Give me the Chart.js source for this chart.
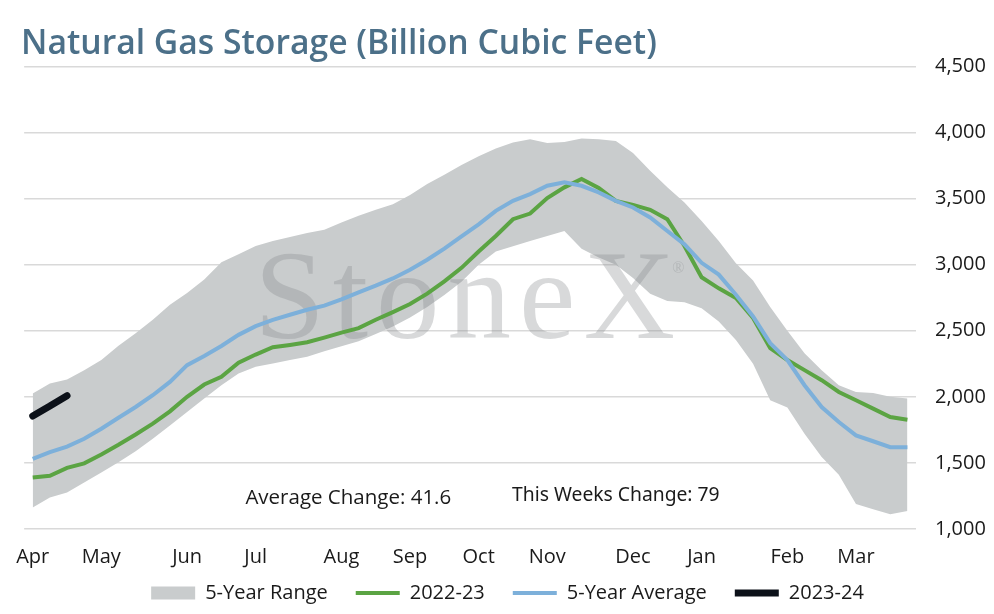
<!DOCTYPE html>
<html>
<head>
<meta charset="utf-8">
<script src="https://cdn.jsdelivr.net/npm/chart.js@4.4.0/dist/chart.umd.min.js"></script>
<style>
  html, body { margin: 0; padding: 0; background: #fff; }
  #wrap { width: 994px; height: 614px; position: relative; }
</style>
</head>
<body>
<div id="wrap"><canvas id="myChart"></canvas></div>
<script>
// weekly points, Apr -> Mar
const monthNames = ['Apr', 'May', 'Jun', 'Jul', 'Aug', 'Sep', 'Oct', 'Nov', 'Dec', 'Jan', 'Feb', 'Mar'];
const monthWeek = [0, 4, 9, 13, 18, 22, 26, 30, 35, 39, 44, 48];
const weekCount = 52;

const rangeLow = [
  1162, 1238, 1276, 1352, 1428, 1505, 1588, 1683, 1784, 1885, 1987, 2088, 2177,
  2228, 2253, 2278, 2304, 2345, 2382, 2420, 2475, 2532, 2600, 2680, 2770, 2870,
  3000, 3100, 3140, 3180, 3217, 3255, 3120, 3055, 3000, 2900, 2780, 2725, 2715,
  2670, 2570, 2430, 2250, 1975, 1920, 1720, 1545, 1410, 1190, 1150, 1112, 1137,
];
const rangeHigh = [
  2025, 2101, 2132, 2202, 2278, 2387, 2481, 2583, 2697, 2786, 2887, 3019, 3078,
  3141, 3180, 3210, 3240, 3265, 3320, 3370, 3415, 3458, 3527, 3610, 3680, 3755,
  3820, 3880, 3925, 3950, 3920, 3928, 3955, 3950, 3935, 3845, 3710, 3585, 3470,
  3330, 3180, 3010, 2880, 2680, 2500, 2330, 2202, 2088, 2037, 2030, 2000, 1987,
];
const season2223 = [
  1390, 1403, 1462, 1497, 1563, 1637, 1715, 1797, 1890, 2000, 2093, 2152, 2258,
  2320, 2375, 2393, 2413, 2448, 2486, 2520, 2583, 2641, 2702, 2781, 2874, 2976,
  3100, 3217, 3344, 3387, 3504, 3585, 3648, 3580, 3483, 3453, 3415, 3344, 3141,
  2905, 2821, 2748, 2596, 2368, 2278, 2202, 2126, 2037, 1974, 1911, 1847, 1827,
];
const fiveYearAvg = [
  1530, 1581, 1624, 1683, 1759, 1842, 1923, 2012, 2113, 2240, 2309, 2385, 2469,
  2535, 2583, 2621, 2659, 2690, 2737, 2790, 2841, 2896, 2962, 3037, 3122, 3214,
  3305, 3407, 3483, 3534, 3597, 3623, 3597, 3547, 3483, 3433, 3357, 3255, 3154,
  3014, 2925, 2773, 2608, 2406, 2278, 2088, 1923, 1809, 1708, 1664, 1619, 1619,
];
const season2324 = [1855, 1930, 2009];

const avgChange = 'Average Change: 41.6';
const weekChange = 'This Weeks Change: 79';

const labels = [];
for (let i = 0; i < weekCount; i++) {
  const m = monthWeek.indexOf(i);
  labels.push(m >= 0 ? monthNames[m] : '');
}

const fontMain = '"Open Sans", "Noto Sans", sans-serif';
const legendSquash = 29;
const legendLift = 30;

// watermark sits on top of the range band, under the lines
const watermark = {
  id: 'watermark',
  afterDatasetDraw(chart, args) {
    if (args.index !== 1) return;
    const { ctx, chartArea } = chart;
    ctx.save();
    ctx.fillStyle = 'rgba(135, 138, 140, 0.32)';
    ctx.font = '127px "Liberation Serif", "DejaVu Serif", serif';
    ctx.letterSpacing = '8px';
    ctx.textAlign = 'left';
    ctx.textBaseline = 'alphabetic';
    ctx.fillText('StoneX', chartArea.left + 230, chartArea.top + 272);
    ctx.letterSpacing = '0px';
    ctx.font = '16px "Liberation Serif", serif';
    ctx.fillText('®', chartArea.left + 648, chartArea.top + 207);
    ctx.restore();
  },
};

const notes = {
  id: 'notes',
  afterDatasetsDraw(chart) {
    const { ctx, scales } = chart;
    ctx.save();
    ctx.fillStyle = '#1a1a1a';
    ctx.textAlign = 'center';
    ctx.textBaseline = 'middle';
    ctx.font = '20.5px ' + fontMain;
    ctx.fillText(avgChange, scales.x.getPixelForValue(18.4), scales.y.getPixelForValue(1235));
    ctx.font = '19.3px "Noto Sans", sans-serif';
    ctx.fillText(weekChange, scales.x.getPixelForValue(34.0), scales.y.getPixelForValue(1250));
    ctx.restore();
  },
};

// legend overlaps the space under the month labels, like the original
const legendPlace = {
  id: 'legendPlace',
  beforeLayout(chart) {
    const lg = chart.legend;
    if (lg && !lg._squashed) {
      const fit = lg.fit.bind(lg);
      lg.fit = () => {
        fit();
        lg.height -= legendSquash;
      };
      lg._squashed = true;
    }
  },
  afterLayout(chart) {
    chart.legend.top -= legendLift;
  },
};

const charts = document.getElementById('myChart');
new Chart(charts, {
  type: 'line',
  data: {
    labels,
    datasets: [
      {
        label: 'low',
        data: rangeLow,
        borderWidth: 0,
        pointRadius: 0,
        fill: false,
        order: 10,
      },
      {
        label: '5-Year Range',
        data: rangeHigh,
        borderWidth: 0,
        borderColor: '#c9cccd',
        backgroundColor: '#c9cccd',
        pointRadius: 0,
        pointStyle: 'rect',
        fill: '-1',
        order: 9,
      },
      {
        label: '2022-23',
        data: season2223,
        borderColor: '#5ba443',
        backgroundColor: '#5ba443',
        borderWidth: 4,
        pointRadius: 0,
        pointStyle: 'line',
        fill: false,
        order: 3,
      },
      {
        label: '5-Year Average',
        data: fiveYearAvg,
        borderColor: '#7db0da',
        backgroundColor: '#7db0da',
        borderWidth: 4,
        pointRadius: 0,
        pointStyle: 'line',
        fill: false,
        order: 2,
      },
      {
        label: '2023-24',
        data: season2324,
        borderColor: '#0c1119',
        backgroundColor: '#0c1119',
        borderWidth: 7,
        borderCapStyle: 'round',
        pointRadius: 0,
        pointStyle: 'line',
        fill: false,
        order: 1,
      },
    ],
  },
  options: {
    responsive: true,
    maintainAspectRatio: false,
    animation: false,
    events: [],
    layout: { padding: { left: 21, right: 0, top: 0, bottom: 0 } },
    plugins: {
      title: {
        display: true,
        text: 'Natural Gas Storage (Billion Cubic Feet)',
        align: 'start',
        color: '#4c7089',
        font: { family: fontMain, size: 33.7, weight: '600' },
        padding: { top: 24, bottom: 2 },
      },
      legend: {
        position: 'bottom',
        labels: {
          usePointStyle: true,
          pointStyleWidth: 44,
          boxHeight: 13,
          padding: 28,
          color: '#1a1a1a',
          font: { family: fontMain, size: 20 },
          filter: (item) => item.text !== 'low',
          sort: (a, b) => a.datasetIndex - b.datasetIndex,
        },
      },
      tooltip: { enabled: false },
    },
    scales: {
      x: {
        type: 'category',
        offset: true,
        grid: { display: false, drawTicks: false },
        border: { display: false },
        ticks: {
          autoSkip: false,
          maxRotation: 0,
          padding: 16,
          color: '#1a1a1a',
          font: { family: fontMain, size: 20 },
        },
      },
      y: {
        position: 'right',
        min: 1000,
        max: 4500,
        afterFit: (scale) => { scale.width = 78; },
        grid: { color: '#d9d9d9', lineWidth: 1.5, drawTicks: false },
        border: { display: false },
        ticks: {
          stepSize: 500,
          padding: 19,
          color: '#1a1a1a',
          font: { family: fontMain, size: 20 },
          callback: (v) => v.toLocaleString('en-US'),
        },
      },
    },
  },
  plugins: [watermark, notes, legendPlace],
});
</script>
</body>
</html>
